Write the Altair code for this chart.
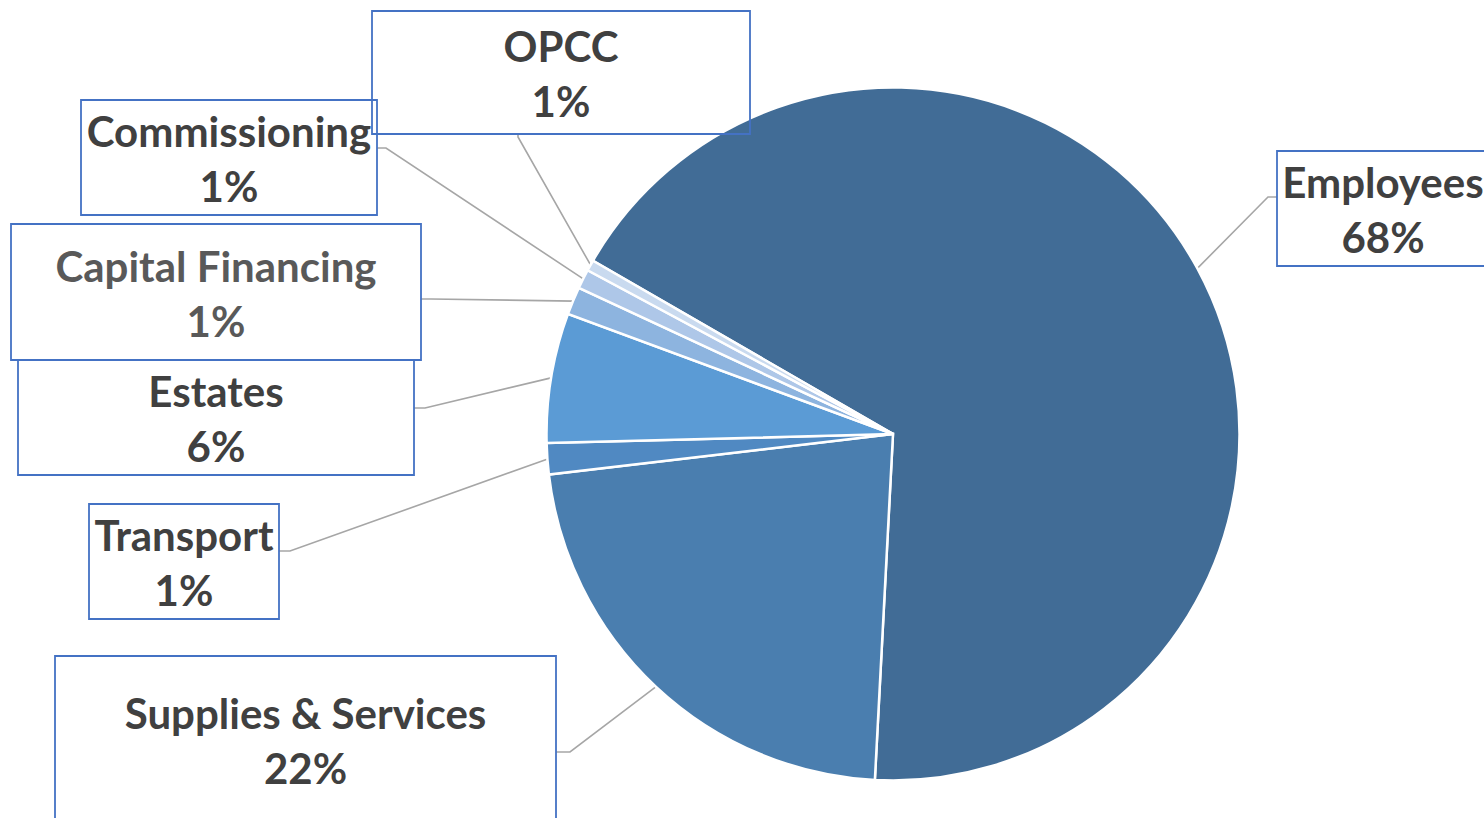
import math
import altair as alt
import pandas as pd

# ---- data ----
categories = ["Employees", "Supplies & Services", "Transport", "Estates",
              "Capital Financing", "Commissioning", "OPCC"]
shares = [67.5, 22.3, 1.45, 6.05, 1.3, 0.9, 0.5]
pct_labels = ["68%", "22%", "1%", "6%", "1%", "1%", "1%"]

# ---- styles ----
slice_colors = ["#416C96", "#4A7EAF", "#5089C2", "#5B9BD5", "#8DB4DF", "#AEC7E8", "#C9DAEF"]
label_colors = ["#404040", "#404040", "#404040", "#404040", "#595959", "#404040", "#404040"]

# ---- layout (pixels) ----
W, H = 1484, 818
CX, CY, R = 893, 434, 346.5
START_DEG = 300.0
FONT = "Lato"
FS = 42

box_x1 = [1277, 55, 89, 18, 11, 81, 372]
box_x2 = [1489, 556, 279, 414, 421, 377, 750]
box_y1 = [151, 656, 504, 360, 224, 100, 11]
box_y2 = [266, 823, 619, 475, 360, 215, 134]
elbow_x = [1268, 570, 290, 425, 431, 386, 518]
elbow_y = [197, 752, 551, 408, 299, 148, 137]
end_x = [1277, 556, 279, 414, 421, 377, 518]
end_y = [197, 752, 551, 408, 299, 148, 134]

# ---- pie data ----
pie_df = pd.DataFrame({"category": categories, "share": shares, "idx": list(range(len(categories)))})

# leader lines: start at the slice's mid-angle on the rim
total = sum(shares)
rows = []
cum = 0.0
for i, (c, s) in enumerate(zip(categories, shares)):
    mid = math.radians(START_DEG + (cum + s / 2) / total * 360.0)
    cum += s
    sx = CX + (R - 1) * math.sin(mid)
    sy = CY - (R - 1) * math.cos(mid)
    rows.append({"category": c, "seq": 0, "x": sx, "y": sy})
    rows.append({"category": c, "seq": 1, "x": elbow_x[i], "y": elbow_y[i]})
    rows.append({"category": c, "seq": 2, "x": end_x[i], "y": end_y[i]})
lead_df = pd.DataFrame(rows)

box_df = pd.DataFrame({"category": categories, "x1": box_x1, "x2": box_x2,
                       "y1": box_y1, "y2": box_y2})

trows = []
for i, c in enumerate(categories):
    cx = (box_x1[i] + box_x2[i]) / 2
    cy = (box_y1[i] + box_y2[i]) / 2 + 4
    trows.append({"text": c, "x": cx, "y": cy - 27.5, "col": label_colors[i]})
    trows.append({"text": pct_labels[i], "x": cx, "y": cy + 27.5, "col": label_colors[i]})
text_df = pd.DataFrame(trows)

xs = alt.Scale(domain=[0, W], nice=False, zero=False)
ys = alt.Scale(domain=[0, H], nice=False, zero=False, reverse=True)

leaders = alt.Chart(lead_df).mark_line(color="#A6A6A6", strokeWidth=1.6).encode(
    x=alt.X("x:Q", scale=xs, axis=None),
    y=alt.Y("y:Q", scale=ys, axis=None),
    detail="category:N",
    order="seq:Q",
)

start = math.radians(START_DEG)
pie = alt.Chart(pie_df).mark_arc(radius=R, stroke="white", strokeWidth=2.5).encode(
    theta=alt.Theta("share:Q", stack=True, scale=alt.Scale(range=[start, start + 2 * math.pi])),
    color=alt.Color("category:N", scale=alt.Scale(domain=categories, range=slice_colors), legend=None),
    order=alt.Order("idx:Q"),
    x=alt.value(CX),
    y=alt.value(CY),
)

boxes = alt.Chart(box_df).mark_rect(fill="white", fillOpacity=0, stroke="#4472C4", strokeWidth=1.8).encode(
    x=alt.X("x1:Q", scale=xs, axis=None),
    x2="x2:Q",
    y=alt.Y("y1:Q", scale=ys, axis=None),
    y2="y2:Q",
)

texts = alt.Chart(text_df).mark_text(font=FONT, fontSize=FS, fontWeight="bold",
                                     align="center", baseline="middle").encode(
    x=alt.X("x:Q", scale=xs, axis=None),
    y=alt.Y("y:Q", scale=ys, axis=None),
    text="text:N",
    color=alt.Color("col:N", scale=None),
)

chart = alt.layer(leaders, pie, boxes, texts).properties(
    width=W, height=H, padding=0, autosize="none", background="white"
).configure_view(stroke=None)

chart.save("out.html", embed_options={"renderer": "svg", "actions": False})
